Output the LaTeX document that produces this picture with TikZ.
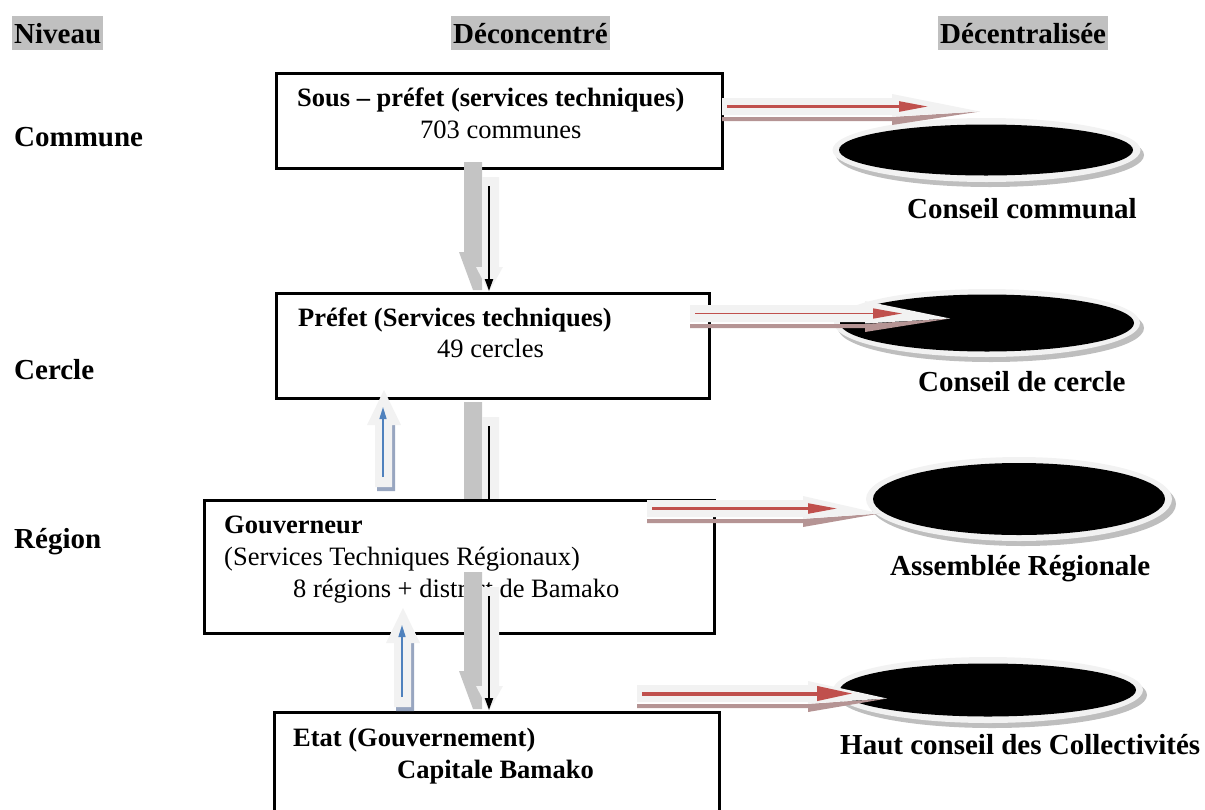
\documentclass[tikz,border=0pt]{standalone}
\usepackage{fontspec}
\setmainfont{Liberation Serif}
\usetikzlibrary{shapes.geometric,arrows.meta,calc}

\definecolor{pale}{HTML}{F2F2F2}
\definecolor{hdrgray}{HTML}{C0C0C0}
\definecolor{redline}{HTML}{C0504D}
\definecolor{redshade}{HTML}{B59494}
\definecolor{grayshade}{HTML}{C4C4C4}
\definecolor{blueline}{HTML}{4F81BD}
\definecolor{blueshade}{HTML}{98A6C0}
\definecolor{ringshade}{HTML}{BEBEBE}

% flat 3-D arrow pointing right: start (body centre), tip, head length,
% gap before the red tip, red line width, red tip style
\newcommand\flatarrow[6]{%
  \fill[redshade] let \p1=(#1), \p2=(#2) in
    (\x1,\y1-10.5pt) -- (\x2-#3,\y1-10.5pt) -- (\x2,\y1-5pt)
    -- (\x2-#3,\y1-18.5pt) -- (\x2-#3,\y1-14.5pt) -- (\x1,\y1-14.5pt) -- cycle;
  \fill[pale] let \p1=(#1), \p2=(#2) in
    (\x1,\y1+8.5pt) -- (\x2-#3,\y1+8.5pt) -- (\x2-#3,\y1+12.5pt) -- (\x2,\y1-5pt)
    -- (\x2-#3,\y1-10pt) -- (\x2-#3,\y1-8.5pt) -- (\x1,\y1-8.5pt) -- cycle;
  \draw[redline, line width=#5, #6] let \p1=(#1), \p2=(#2) in
    (\x1+5pt,\y1) -- (\x2-#4,\y1);
}

% flat 3-D arrow pointing down: top and bottom of the shaft seam
\newcommand\dropblock[2]{%
  \fill[grayshade] let \p1=(#1), \p2=(#2) in
    (\x1-18pt,\y1) -- (\x1,\y1) -- (\x1,\y2+2pt) -- (\x1-9pt,\y2+2pt)
    -- (\x1-23pt,\y2+40pt) -- (\x1-18pt,\y2+40pt) -- cycle;
  \fill[pale] let \p1=(#1), \p2=(#2) in
    (\x1,\y1-15pt) -- (\x1+17pt,\y1-15pt) -- (\x1+17pt,\y2+25pt) -- (\x1+21pt,\y2+25pt)
    -- (\x1+7pt,\y2) -- (\x1-6pt,\y2+25pt) -- (\x1,\y2+25pt) -- cycle;
  \draw[line width=2pt, -{Triangle[length=12pt,width=8pt]}] let \p1=(#1), \p2=(#2) in
    (\x1+7pt,\y1-24pt) -- (\x1+7pt,\y2+1pt);
}

% flat 3-D arrow pointing up: bottom and tip of its axis
\newcommand\liftblock[2]{%
  \fill[blueshade] let \p1=(#1), \p2=(#2) in
    (\x1+7pt,\y2-35pt) -- (\x1+11pt,\y2-35pt) -- (\x1+11pt,\y1-1pt)
    -- (\x1-7pt,\y1-1pt) -- (\x1-7pt,\y1+3pt) -- (\x1+7pt,\y1+3pt) -- cycle;
  \fill[pale] let \p1=(#1), \p2=(#2) in
    (\x1-9pt,\y1+3pt) -- (\x1-9pt,\y2-35pt) -- (\x1-17pt,\y2-35pt) -- (\x2,\y2)
    -- (\x1+17pt,\y2-35pt) -- (\x1+8pt,\y2-35pt) -- (\x1+8pt,\y1+3pt) -- cycle;
  \draw[blueline, line width=1.5pt, -{Triangle[length=12pt,width=7pt]}] let \p1=(#1), \p2=(#2) in
    (\x1-1pt,\y1+13pt) -- (\x1-1pt,\y2-17pt);
}

\begin{document}
\begin{tikzpicture}[x=1pt,y=-1pt,
  hdr/.style={fill=hdrgray, inner xsep=2pt, inner ysep=1pt, text height=26pt,
    text depth=6pt, anchor=base west, font=\fontsize{29}{33}\selectfont\bfseries},
  lvl/.style={anchor=base west, inner sep=0pt, font=\fontsize{29}{33}\selectfont\bfseries},
  txt/.style={anchor=base west, inner sep=0pt, font=\fontsize{26.5}{30}\selectfont},
  btxt/.style={anchor=base west, inner sep=0pt, font=\fontsize{26.5}{30}\selectfont\bfseries},
  unitbox/.style={draw, line width=2.6pt, fill=white, anchor=north west, inner sep=0pt},
  council/.style={ellipse, fill=black, inner sep=0pt},
  tipA/.style={-{Triangle[length=29pt,width=10pt]}},
  tipB/.style={-{Triangle[length=36pt,width=14pt]}}]

\useasboundingbox (0,0) rectangle (1205,809);
\clip (0,0) rectangle (1205,809);

% column headings
\node[hdr] (hNiv) at (12,43) {Niveau};
\node[hdr] (hDec) at (451,43) {Déconcentré};
\node[hdr] (hDcz) at (938,43) {Décentralisée};

% levels
\node[lvl] (lCom) at (14,146) {Commune};
\node[lvl] (lCer) at (14,379) {Cercle};
\node[lvl] (lReg) at (14,548) {Région};

% elected councils
\fill[ringshade] (990,155) ellipse [x radius=154, y radius=32];
\fill[pale] (986.5,150) ellipse [x radius=154, y radius=32];
\node[council, minimum width=294, minimum height=51] (e1) at (986,150) {};

\fill[ringshade] (991,328) ellipse [x radius=153, y radius=34];
\fill[pale] (987,323) ellipse [x radius=153, y radius=34];
\node[council, minimum width=294, minimum height=57] (e2) at (987,323) {};

\fill[ringshade] (1023,504) ellipse [x radius=153, y radius=42];
\fill[pale] (1019,499) ellipse [x radius=153, y radius=42];
\node[council, minimum width=292, minimum height=72] (e3) at (1019,499) {};

\fill[ringshade] (992,695) ellipse [x radius=155, y radius=33];
\fill[pale] (988,690) ellipse [x radius=155, y radius=33];
\node[council, minimum width=296, minimum height=53] (e4) at (988,690) {};

\node[lvl] (c1) at (907,218) {Conseil communal};
\node[lvl] (c2) at (918,391) {Conseil de cercle};
\node[lvl] (c3) at (890,575) {Assemblée Régionale};
\node[lvl] (c4) at (840,754) {Haut conseil des Collectivités};

% seam coordinates of the vertical arrows
\coordinate (d1t) at (482,162); \coordinate (d1b) at (482,292);
\coordinate (d2t) at (482,402); \coordinate (d2b) at (482,560);
\coordinate (d3t) at (482,572); \coordinate (d3b) at (482,711);
\coordinate (u1b) at (384,490); \coordinate (u1t) at (384,390);
\coordinate (u2b) at (403,710); \coordinate (u2t) at (403,608);

% préfet towards gouverneur, partly under the gouverneur box
\dropblock{d2t}{d2b}

% administrative units
\node[unitbox, minimum width=446, minimum height=95] (b1) at (275,72) {};
\node[unitbox, minimum width=433, minimum height=105] (b2) at (275,292) {};
\node[unitbox, minimum width=510, minimum height=133] (b3) at (203,499) {};
\node[unitbox, minimum width=445, minimum height=130] (b4) at (273,711) {};

\node[btxt] (t1a) at (297,106) {Sous – préfet (services techniques)};
\node[txt]  (t1b) at (420,138) {703 communes};
\node[btxt] (t2a) at (298,326) {Préfet (Services techniques)};
\node[txt]  (t2b) at (437,357) {49 cercles};
\node[btxt] (t3a) at (224,533) {Gouverneur};
\node[txt]  (t3b) at (224,565) {(Services Techniques Régionaux)};
\node[txt]  (t3c) at (293,597) {8 régions + district de Bamako};
\node[btxt] (t4a) at (293,746) {Etat (Gouvernement)};
\node[btxt] (t4b) at (397,778) {Capitale Bamako};

% vertical links between the levels
\dropblock{d1t}{d1b}
\dropblock{d3t}{d3b}
\liftblock{u1b}{u1t}
\liftblock{u2b}{u2t}

% links from each unit to its council
\coordinate (r1s) at (722,106.5); \coordinate (r1e) at (980,106.5);
\coordinate (r2s) at (690,313.5); \coordinate (r2e) at (950,313.5);
\coordinate (r3s) at (647,508.5); \coordinate (r3e) at (880,508.5);
\coordinate (r4s) at (637,693.5); \coordinate (r4e) at (887,693.5);
\flatarrow{r1s}{r1e}{88pt}{52pt}{2.5pt}{tipA}
\flatarrow{r2s}{r2e}{85pt}{48pt}{1.5pt}{tipA}
\flatarrow{r3s}{r3e}{77pt}{43pt}{2.2pt}{tipA}
\flatarrow{r4s}{r4e}{79pt}{34pt}{4pt}{tipB}

\end{tikzpicture}
\end{document}
